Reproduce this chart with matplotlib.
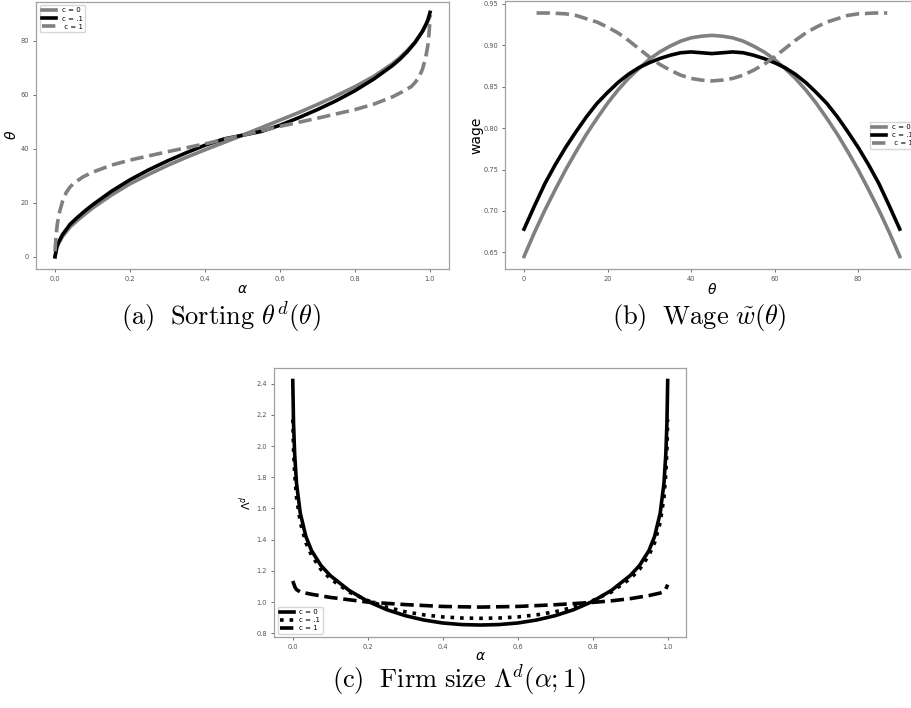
import matplotlib
matplotlib.use("Agg")
import matplotlib.pyplot as plt

# (a) sorting theta^d(alpha)
alpha_a = [0, 0.005, 0.01, 0.02, 0.04, 0.06, 0.08, 0.1, 0.15, 0.2, 0.25, 0.3, 0.35, 0.4, 0.45,
           0.5, 0.55, 0.6, 0.65, 0.7, 0.75, 0.8, 0.85, 0.9, 0.92, 0.94, 0.96, 0.98, 0.99, 0.995, 1.0]
sort_c0 = [0, 3.5, 5, 7.5, 11, 13.5, 15.8, 18, 22.8, 27, 30.5, 33.8, 36.8, 39.6, 42.3,
           45, 47.8, 50.6, 53.4, 56.4, 59.6, 63, 66.8, 71.5, 73.8, 76.5, 79.5, 83.5, 86, 87.5, 89]
sort_c01 = [0, 3.8, 5.5, 8.2, 12, 14.6, 17, 19.2, 24.2, 28.5, 32.2, 35.5, 38.5, 41.3, 43.6,
            45, 46.4, 48.7, 51.5, 54.5, 57.8, 61.5, 65.8, 70.8, 73.2, 76, 79.3, 83.5, 86.3, 88, 90.5]
alpha_a1 = [0, 0.003, 0.006, 0.012, 0.02, 0.03, 0.04, 0.05, 0.075, 0.1, 0.15, 0.2, 0.3, 0.4, 0.5,
            0.6, 0.7, 0.8, 0.85, 0.9, 0.925, 0.95, 0.96, 0.97, 0.98, 0.988, 0.994, 0.997, 1.0]
sort_c1 = [2, 8, 12, 16.5, 20.5, 23.8, 25.8, 27.2, 29.6, 31.3, 33.9, 35.8, 38.9, 41.8, 45,
           48.3, 51.3, 54.5, 56.5, 59.2, 61, 63, 64.5, 66.3, 69.5, 73.5, 78, 82, 88]

# (b) wage w(theta)
theta_b = [0, 2.5, 5, 7.5, 10, 12.5, 15, 17.5, 20, 22.5, 25, 27.5, 30, 32.5, 35, 37.5, 40, 42.5, 45,
           47.5, 50, 52.5, 55, 57.5, 60, 62.5, 65, 67.5, 70, 72.5, 75, 77.5, 80, 82.5, 85, 87.5, 90]
wage_c0 = [0.645, 0.674, 0.701, 0.726, 0.750, 0.772, 0.793, 0.812, 0.830, 0.846, 0.860, 0.872,
           0.883, 0.892, 0.899, 0.905, 0.909, 0.911, 0.912,
           0.911, 0.909, 0.905, 0.899, 0.892, 0.883, 0.872, 0.860, 0.846, 0.830, 0.812, 0.793,
           0.772, 0.750, 0.726, 0.701, 0.674, 0.645]
wage_c01 = [0.678, 0.706, 0.733, 0.756, 0.777, 0.796, 0.814, 0.830, 0.843, 0.855, 0.865, 0.873,
            0.879, 0.884, 0.888, 0.891, 0.892, 0.891, 0.890,
            0.891, 0.892, 0.891, 0.888, 0.884, 0.879, 0.873, 0.865, 0.855, 0.843, 0.830, 0.814,
            0.796, 0.777, 0.756, 0.733, 0.706, 0.678]
theta_b1 = [3, 6, 10, 12.5, 15, 17.5, 20, 22.5, 25, 27.5, 30, 32.5, 35, 37.5, 40, 42.5, 45,
            47.5, 50, 52.5, 55, 57.5, 60, 62.5, 65, 67.5, 70, 72.5, 75, 77.5, 80, 84, 87]
wage_c1 = [0.939, 0.939, 0.938, 0.936, 0.932, 0.928, 0.922, 0.915, 0.906, 0.896, 0.886, 0.877,
           0.870, 0.864, 0.860, 0.858, 0.857,
           0.858, 0.860, 0.864, 0.870, 0.877, 0.886, 0.896, 0.906, 0.915, 0.922, 0.928, 0.932,
           0.936, 0.938, 0.939, 0.939]

# (c) firm size Lambda^d(alpha; 1)
alpha_c = [0, 0.002, 0.005, 0.01, 0.02, 0.035, 0.05, 0.075, 0.1, 0.15, 0.2, 0.25, 0.3, 0.35, 0.4, 0.45,
           0.5, 0.55, 0.6, 0.65, 0.7, 0.75, 0.8, 0.85, 0.9, 0.925, 0.95, 0.965, 0.98, 0.99, 0.995, 0.998, 1.0]
size_c0 = [2.42, 2.15, 1.95, 1.76, 1.57, 1.42, 1.33, 1.235, 1.17, 1.075, 1.005, 0.952, 0.913, 0.885, 0.866, 0.856,
           0.853, 0.856, 0.866, 0.885, 0.913, 0.952, 1.005, 1.075, 1.17, 1.235, 1.33, 1.42, 1.57, 1.76, 1.95, 2.15, 2.42]
size_c01 = [2.17, 1.98, 1.82, 1.67, 1.51, 1.38, 1.30, 1.21, 1.15, 1.065, 1.01, 0.968, 0.938, 0.918, 0.905, 0.898,
            0.896, 0.898, 0.905, 0.918, 0.938, 0.968, 1.01, 1.065, 1.15, 1.21, 1.30, 1.38, 1.51, 1.67, 1.82, 1.98, 2.17]
alpha_c1 = [0, 0.003, 0.006, 0.01, 0.02, 0.05, 0.1, 0.15, 0.2, 0.3, 0.4, 0.5,
            0.6, 0.7, 0.8, 0.85, 0.9, 0.95, 0.98, 0.99, 0.994, 0.997, 1.0]
size_c1 = [1.135, 1.115, 1.095, 1.08, 1.065, 1.05, 1.03, 1.015, 1.0, 0.984, 0.972, 0.968,
           0.972, 0.983, 0.998, 1.008, 1.022, 1.042, 1.058, 1.068, 1.08, 1.095, 1.112]

GREY = "#808080"
LW = 2.6


def style(ax):
    for s in ax.spines.values():
        s.set_color("#a0a0a0")
        s.set_linewidth(0.9)
    ax.tick_params(labelsize=4.8, colors="#555555", length=2.5, width=0.6, pad=2.5)


leg = dict(fontsize=5.0, borderpad=0.35, labelspacing=0.3, handlelength=2.0)

fig = plt.figure(figsize=(9.11, 7.08), dpi=100)

ax1 = fig.add_axes([0.0398, 0.6202, 0.4528, 0.3776])
ax1.plot(alpha_a, sort_c0, color=GREY, lw=LW, label="c = 0")
ax1.plot(alpha_a, sort_c01, color="black", lw=LW, label="c = .1")
ax1.plot(alpha_a1, sort_c1, color=GREY, lw=LW, ls="--", label=" c = 1")
ax1.set_xlim(-0.05, 1.05)
ax1.set_ylim(-4.5, 94.5)
ax1.set_xticks([0.0, 0.2, 0.4, 0.6, 0.8, 1.0])
ax1.set_yticks([0, 20, 40, 60, 80])
ax1.set_xlabel(r"$\alpha$", fontsize=10, labelpad=0)
ax1.set_ylabel(r"$\theta$", fontsize=10, labelpad=1)
ax1.legend(loc="upper left", **leg)
style(ax1)

ax2 = fig.add_axes([0.5546, 0.6202, 0.4537, 0.3778])
ax2.plot(theta_b, wage_c0, color=GREY, lw=LW, label="c = 0")
ax2.plot(theta_b, wage_c01, color="black", lw=LW, label="c = .1")
ax2.plot(theta_b1, wage_c1, color=GREY, lw=LW, ls="--", label=" c = 1")
ax2.set_xlim(-4.5, 94.5)
ax2.set_ylim(0.630, 0.953)
ax2.set_xticks([0, 20, 40, 60, 80])
ax2.set_yticks([0.65, 0.70, 0.75, 0.80, 0.85, 0.90, 0.95])
ax2.set_xlabel(r"$\theta$", fontsize=10, labelpad=0)
ax2.set_ylabel("wage", fontsize=10, labelpad=0)
ax2.legend(loc="center right", **leg)
style(ax2)

ax3 = fig.add_axes([0.3008, 0.1, 0.4527, 0.3802])
ax3.plot(alpha_c, size_c0, color="black", lw=LW, label="c = 0")
ax3.plot(alpha_c, size_c01, color="black", lw=LW, ls=":", label="c = .1")
ax3.plot(alpha_c1, size_c1, color="black", lw=LW, ls="--", label="c = 1")
ax3.set_xlim(-0.05, 1.05)
ax3.set_ylim(0.775, 2.5)
ax3.set_xticks([0.0, 0.2, 0.4, 0.6, 0.8, 1.0])
ax3.set_yticks([0.8, 1.0, 1.2, 1.4, 1.6, 1.8, 2.0, 2.2, 2.4])
ax3.set_xlabel(r"$\alpha$", fontsize=10, labelpad=-1)
ax3.set_ylabel(r"$\Lambda^d$", fontsize=8, labelpad=2)
ax3.legend(loc="lower left", **leg)
style(ax3)

cap = dict(fontsize=19, ha="center", va="center", math_fontfamily="cm")
fig.text(221 / 911, 1 - 317 / 708, r"$\mathrm{(a)\ \ Sorting}\ \theta^d(\theta)$", **cap)
fig.text(699 / 911, 1 - 317 / 708, r"$\mathrm{(b)\ \ Wage}\ \tilde{w}(\theta)$", **cap)
fig.text(459 / 911, 1 - 680 / 708, r"$\mathrm{(c)\ \ Firm\ size}\ \Lambda^d(\alpha;1)$", **cap)

fig.savefig("out.png", dpi=100)
